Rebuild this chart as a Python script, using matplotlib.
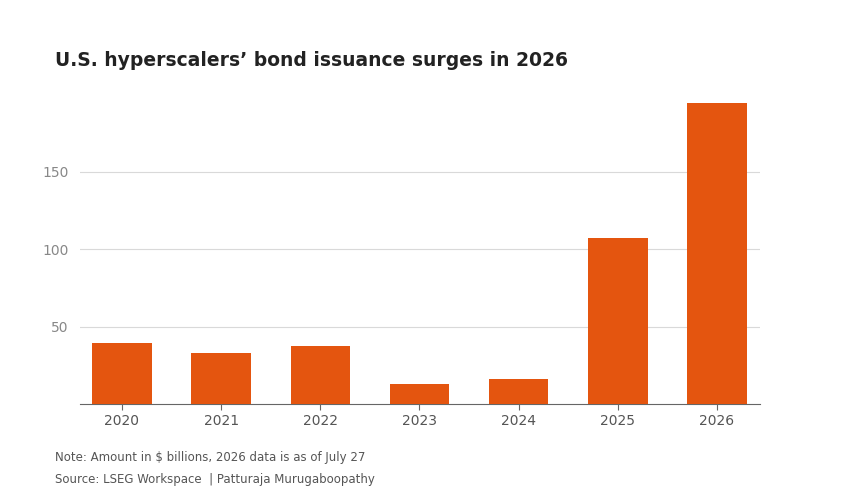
import matplotlib
matplotlib.use("Agg")
import matplotlib.pyplot as plt

years = ["2020", "2021", "2022", "2023", "2024", "2025", "2026"]
values = [39.5, 33, 37.5, 13, 16, 107, 194]
yticks = [50, 100, 150]

fig = plt.figure(figsize=(8.47, 4.93), dpi=100)
ax = fig.add_axes([0.0945, 0.1805, 0.8025, 0.6285])
ax.bar(years, values, width=0.6, color="#e4550f", zorder=3)
ax.set_ylim(0, 200)
ax.set_xlim(-0.423, 6.432)
ax.set_yticks(yticks)
ax.grid(axis="y", color="#d9d9d9", lw=0.8, zorder=0)
for s in ["top", "right", "left"]:
    ax.spines[s].set_visible(False)
ax.spines["bottom"].set_color("#666666")
ax.tick_params(axis="y", length=0, labelcolor="#888888", labelsize=10, pad=8)
ax.tick_params(axis="x", length=4, color="#666666", labelcolor="#555555", labelsize=10)

fig.text(0.065, 0.878, "U.S. hyperscalers\u2019 bond issuance surges in 2026",
         fontsize=13.5, fontweight="bold", color="#222222", va="center")
fig.text(0.065, 0.073, "Note: Amount in $ billions, 2026 data is as of July 27",
         fontsize=8.5, color="#555555", va="center")
fig.text(0.065, 0.027, "Source: LSEG Workspace  | Patturaja Murugaboopathy",
         fontsize=8.5, color="#555555", va="center")
fig.savefig("out.png", dpi=100)
